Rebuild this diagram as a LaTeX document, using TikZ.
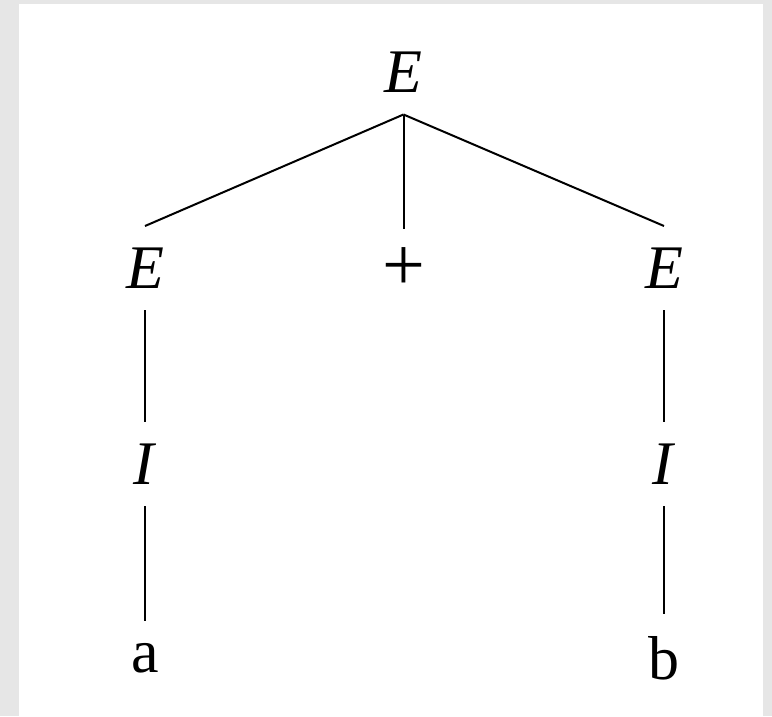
\documentclass[tikz,border=0pt]{standalone}
\usepackage{fontspec}
\setmainfont{Liberation Serif}
\definecolor{pagegray}{RGB}{230,230,230}
\begin{document}
\begin{tikzpicture}[x=1pt,y=-1pt,
  lab/.style={inner xsep=0pt,inner ysep=21.5pt,font=\fontsize{62}{74}\selectfont},
  edge/.style={line width=2pt}]
\fill[pagegray] (0,0) rectangle (772,716);
\fill[white] (19,4) rectangle (763,716);
\useasboundingbox (0,0) rectangle (772,716);
\node[lab] (root) at (403.5,72.5) {\textit{E}};
\node[lab] (el) at (145,268) {\textit{E}};
\node[lab,font=\fontsize{76}{90}\selectfont,inner ysep=18pt] (plus) at (403.5,269) {+};
\node[lab] (er) at (664,268) {\textit{E}};
\node[lab] (il) at (145,464) {\textit{I}};
\node[lab] (ir) at (664,464) {\textit{I}};
\node[lab] (a) at (145,658) {a};
\node[lab] (b) at (664,658) {b};
\draw[edge] (root.south) -- (el.north);
\draw[edge] (root.south) -- (plus.north);
\draw[edge] (root.south) -- (er.north);
\draw[edge] (el.south) -- (il.north);
\draw[edge] (er.south) -- (ir.north);
\draw[edge] (il.south) -- (a.north);
\draw[edge] (ir.south) -- (b.north);
\end{tikzpicture}
\end{document}
